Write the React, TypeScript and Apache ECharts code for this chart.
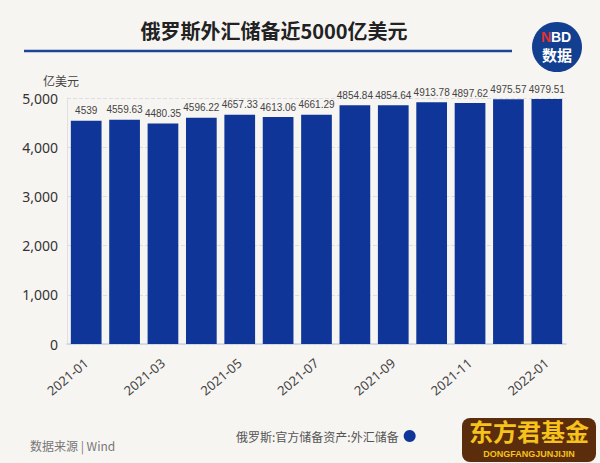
import React, { useEffect, useRef } from "react";
import * as echarts from "echarts";

const categories = ["2021-01","2021-02","2021-03","2021-04","2021-05","2021-06","2021-07","2021-08","2021-09","2021-10","2021-11","2021-12","2022-01"];
const values = [4539, 4559.63, 4480.35, 4596.22, 4657.33, 4613.06, 4661.29, 4854.84, 4854.64, 4913.78, 4897.62, 4975.57, 4979.51];
const seriesName = "俄罗斯:官方储备资产:外汇储备";
const titleText = "俄罗斯外汇储备近5000亿美元";
const unitName = "亿美元";
const sourceText = "数据来源 | Wind";

export default function App() {
  const ref = useRef<HTMLDivElement>(null);
  useEffect(() => {
    if (!ref.current) return;
    const chart = echarts.init(ref.current, null, { renderer: "svg" });
    const font = "'Noto Sans CJK SC', 'Noto Sans', sans-serif";
    chart.setOption({
      animation: false,
      backgroundColor: "#f7f5f2",
      textStyle: { fontFamily: font },
      title: {
        text: titleText,
        left: 269,
        top: 15,
        textAlign: "center",
        textStyle: { fontSize: 20, fontWeight: "bold", color: "#222", fontFamily: font },
      },
      legend: {
        data: [{ name: seriesName, icon: "circle" }],
        left: 231,
        top: 425,
        align: "right",
        itemWidth: 12,
        itemHeight: 12,
        itemGap: 4,
        textStyle: { fontSize: 12, color: "#555", fontFamily: font },
      },
      grid: { left: 67, right: 34, top: 98, bottom: 119 },
      xAxis: {
        type: "category",
        data: categories,
        axisLine: { lineStyle: { color: "#c9d3e6", width: 1.5 } },
        axisTick: { show: false },
        axisLabel: { interval: 1, rotate: 40, fontSize: 13, color: "#444", margin: 17, fontFamily: "'Noto Sans', sans-serif" },
      },
      yAxis: {
        type: "value",
        min: 0,
        max: 5000,
        interval: 1000,
        name: unitName,
        nameLocation: "end",
        nameGap: 12,
        nameTextStyle: { fontSize: 12, color: "#444", align: "center", padding: [0, 0, 0, -12] },
        axisLine: { show: true, lineStyle: { color: "#e0e0e0" } },
        axisTick: { show: false },
        axisLabel: {
          fontSize: 14,
          color: "#333",
          margin: 9,
          fontFamily: "'Noto Sans', sans-serif",
          formatter: (v: number) => v.toLocaleString("en-US"),
        },
        splitLine: { lineStyle: { type: "dashed", color: "#dedede" } },
      },
      series: [
        {
          name: seriesName,
          type: "bar",
          data: values,
          barCategoryGap: "20%",
          itemStyle: { color: "#0e3597" },
          label: { show: true, position: "top", fontSize: 10, color: "#444", distance: 5, fontFamily: "'Liberation Sans', sans-serif" },
        },
      ],
      graphic: [
        { type: "line", shape: { x1: 24, y1: 51, x2: 512, y2: 51 }, style: { stroke: "#1d4796", lineWidth: 2.5 } },
        { type: "circle", shape: { cx: 557, cy: 47, r: 25 }, style: { fill: "#123f8f" } },
        { type: "text", x: 557, y: 30, style: { text: "N", fill: "#e53030", font: "bold 14px 'Liberation Sans', sans-serif", x: -16, align: "left" } },
        { type: "text", x: 557, y: 30, style: { text: "BD", fill: "#fff", font: "bold 14px 'Liberation Sans', sans-serif", x: -6, align: "left" } },
        { type: "text", x: 557, y: 47, style: { text: "数据", fill: "#fff", font: `bold 15px ${font}`, align: "center" } },
        { type: "text", x: 30, y: 439, style: { text: sourceText, fill: "#777", font: `12px ${font}` } },
        { type: "rect", shape: { x: 462, y: 418, width: 134, height: 44, r: 8 }, style: { fill: "#5b2d0c" } },
        { type: "text", x: 529, y: 418, style: { text: "东方君基金", fill: "#f6c21c", font: `bold 24px ${font}`, align: "center" } },
        { type: "text", x: 529, y: 449, style: { text: "DONGFANGJUNJIJIN", fill: "#f6c21c", font: "bold 9px sans-serif", align: "center" } },
      ],
    });
    return () => chart.dispose();
  }, []);
  return <div ref={ref} style={{ width: 600, height: 463, position: "absolute", left: 0, top: 0 }} />;
}
